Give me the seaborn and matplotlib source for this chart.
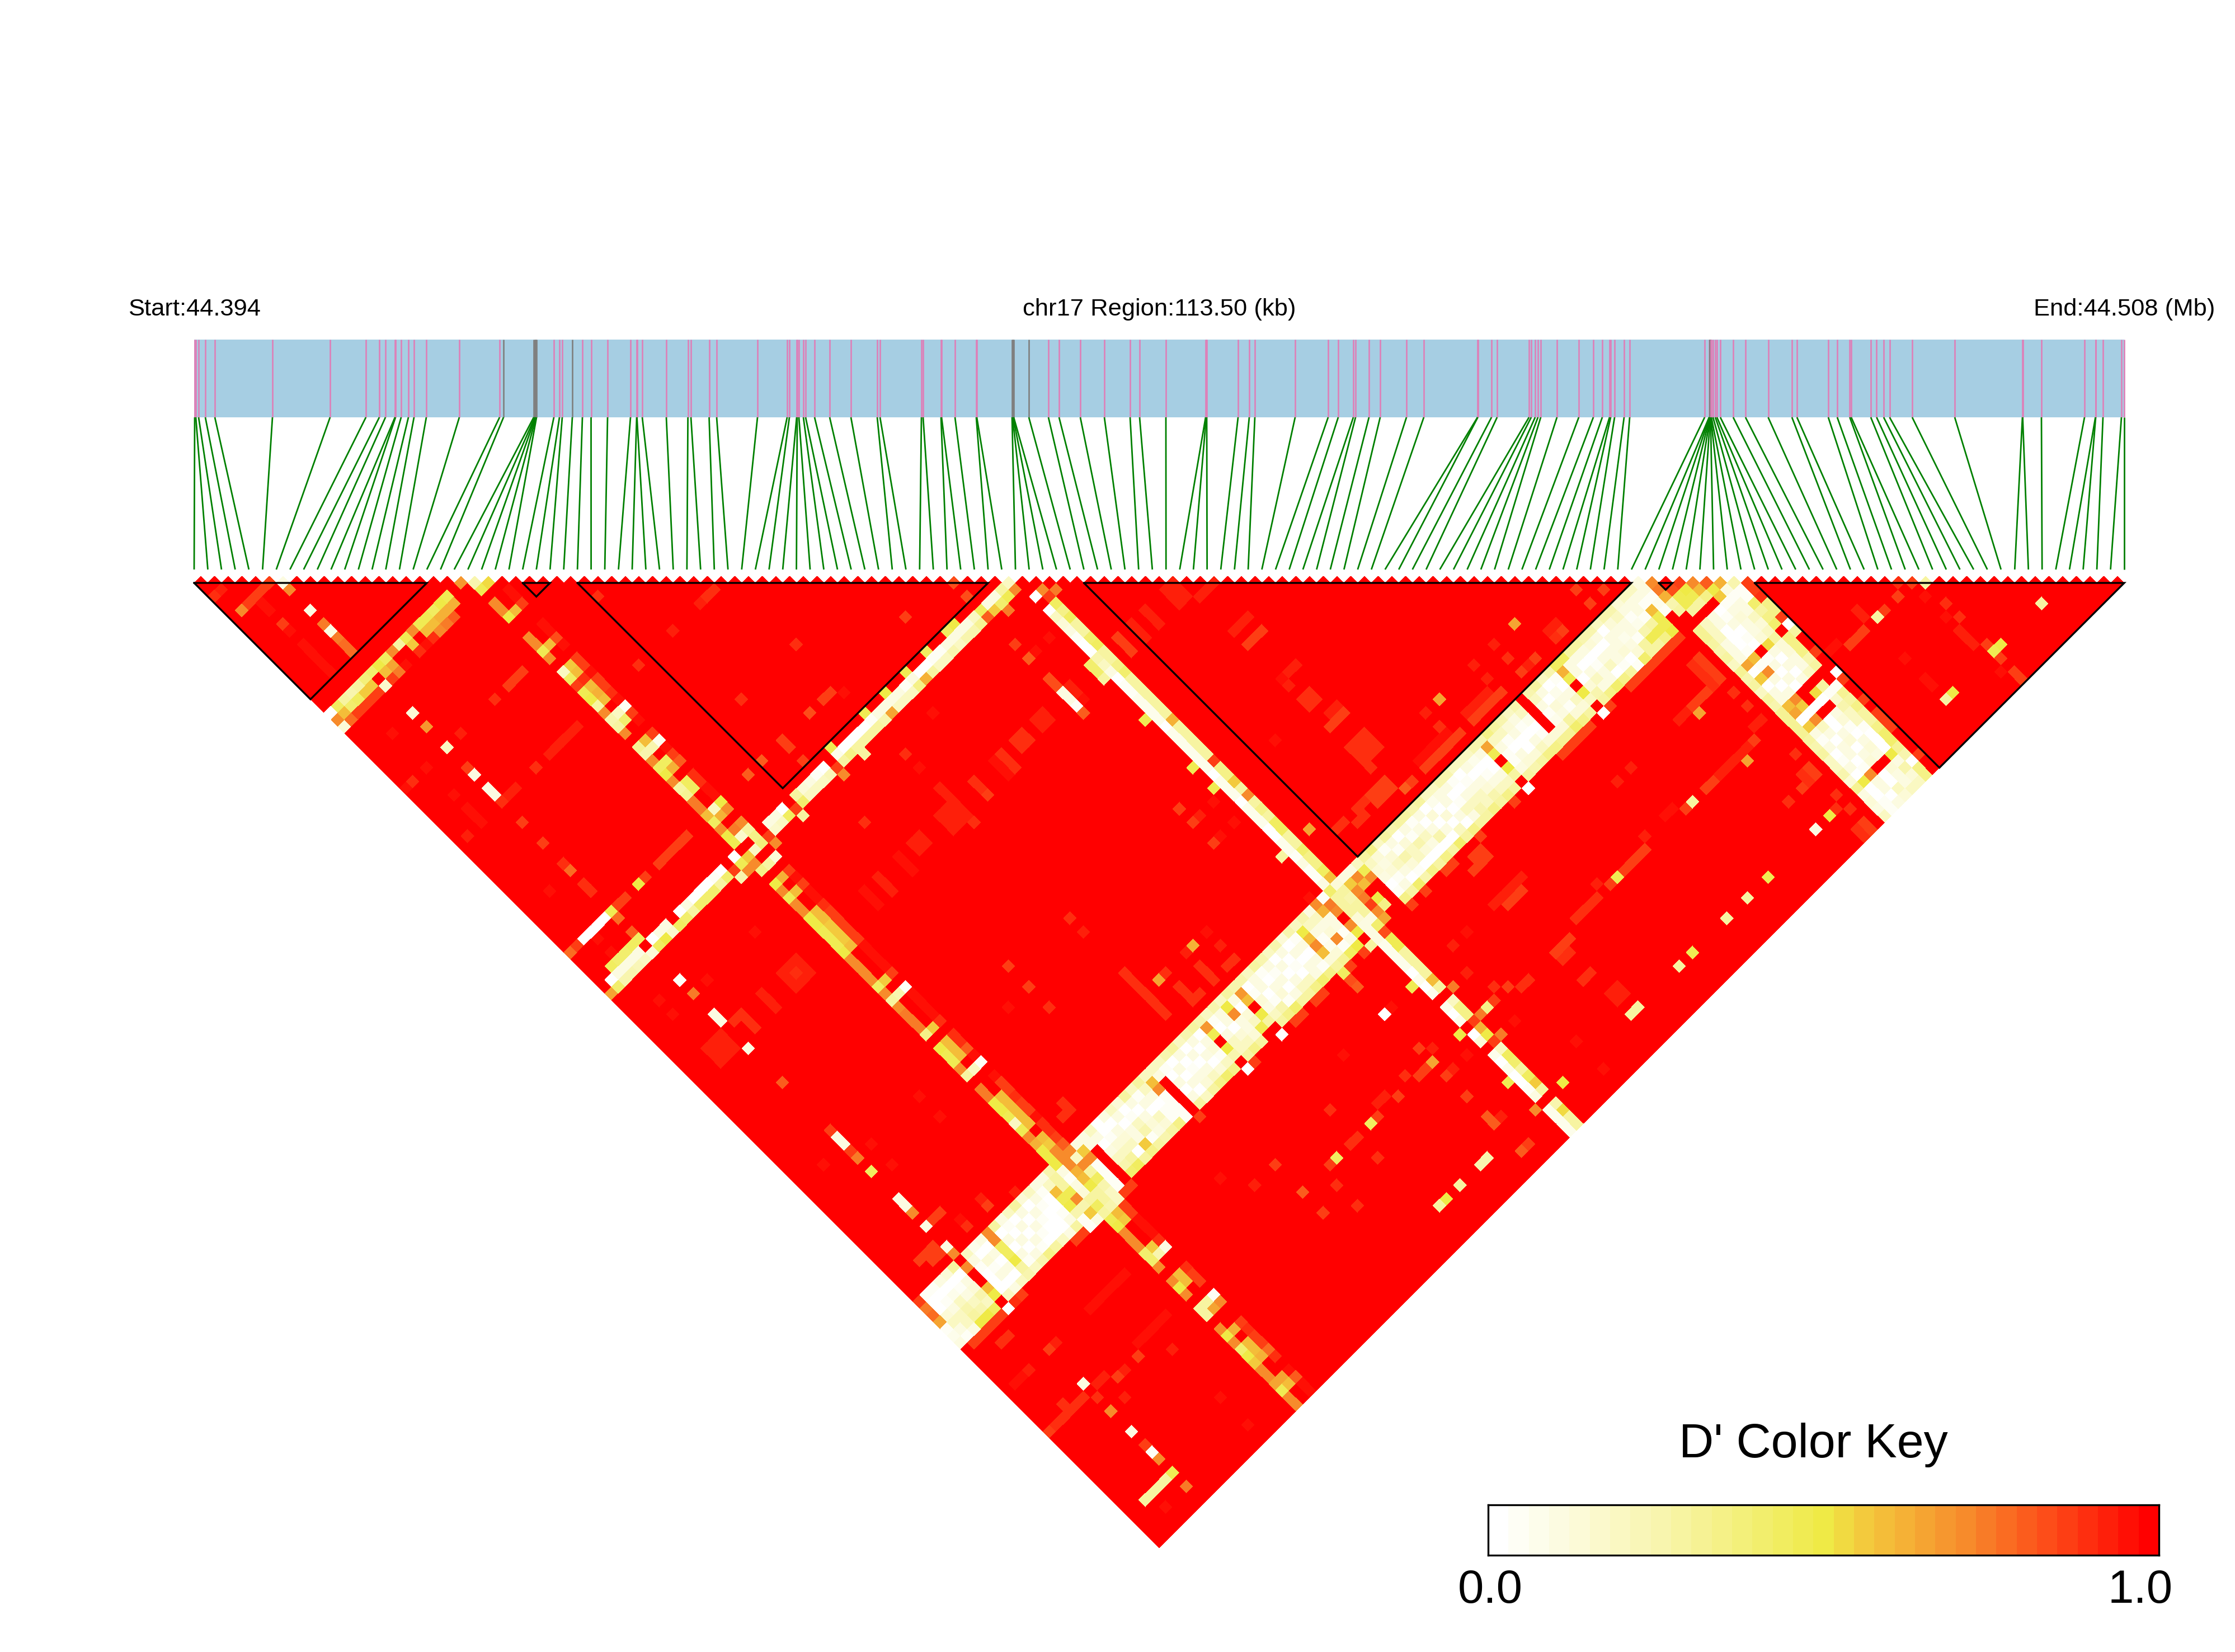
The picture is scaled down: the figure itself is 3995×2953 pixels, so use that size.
import numpy as np
import matplotlib
matplotlib.use("Agg")
import matplotlib.pyplot as plt
from matplotlib.collections import LineCollection
from matplotlib.colors import LinearSegmentedColormap
from matplotlib.patches import Rectangle
from matplotlib.transforms import Affine2D
import seaborn as sns

sns.set_theme(style="white")
plt.rcParams["font.family"] = ["Liberation Sans", "DejaVu Sans"]

N_SNP = 142
REGION_UNITS = 3450.0
# SNP positions along the region track (0..3450 = 113.5 kb)
snp_track_pos = [1,3,8,20,37,140,243,307,331,342,359,360,370,383,393,415,474,546,553,607,609,610,611,612,643,653,658,676,694,709.5,
739,780,791,791.5,801,844,882.6,888,920.5,934,1007,1060,1064,1077,1078,1081,1089,1093,1109,1136,1174,1221,1226,1300,1303,1335,1336,1360,1398,1399,
1462,1463,1464,1465,1492,1527,1546,1584,1627,1673,1690,1737,1808,1809,1810,1866,1886,1896,1968,2027,2045,2072,2076,2100,2120,2167,2198,2294,2294.5,2319,
2329,2386,2390,2397,2402,2407,2436,2475,2501,2517,2530,2532,2539,2556,2566,2700,2708,2708.5,2709,2709.5,2710,2710.5,2711,2712,2715,2719,2722,2728,2751,2773,
2813.5,2856,2865,2921,2937,2959.4,2962,2997,3007.4,3020,3030.6,3071,3147,3268,3268.5,3302,3379,3398.5,3399,3412,3445,3450]
gray_snps = [18,19,20,21,22,23,27,60,61,62,63,64,107,108,109,110,111]
ld_blocks = [(0,17),(24,26),(28,58),(65,105),(107,108),(114,141)]

# Typical D' across the low-LD SNP groups
c3_col_profile = [0.27,0.2,0.1,0.04,0.08,0.15,0.33]   # columns 106..112, rows 0..104
c3_row_profile = [0.32,0.2,0.1,0.04,0.1,0.18,0.33]    # rows 106..112, columns 114..141

# rows of the 106..113 column group with their own readings
c3_rows = {
 0:[.85,.75,.78,.65,.05,.08,.1,1], 1:[.05,.0,.02,.15,.2,.1,.05,.85], 2:[.05,.02,.05,.1,.2,.2,.1,.85], 3:[.1,.02,.08,.2,.25,.3,.5,.85], 4:[.15,.02,.05,.12,.2,.25,.5,.85], 5:[.3,.02,.1,.15,.25,.2,.45,.85],
 6:[1,.72,1,1,.6,.5,1,.03], 7:[.2,.12,.05,.02,.03,.02,.2,.9], 8:[.08,.03,.15,.05,.1,.02,.12,.85], 9:[.12,.02,.1,.02,.1,.03,.2,1], 10:[.7,.72,.45,.45,.5,.3,.25,1],
 11:[.3,.02,.1,.02,.12,.05,.2,1], 12:[.12,.05,.02,.12,.03,.1,.25,1], 13:[.2,.02,.12,.03,.1,.05,.35,1], 14:[.3,.1,.02,.12,.05,.02,.3,1], 15:[.15,.02,.1,.05,.0,.02,.2,1], 16:[.2,.1,.05,.02,.0,.0,.1,.85], 17:[.12,.05,.02,.0,.05,.1,.3,.85],
 18:[.12,.2,.6,.47,.5,.25,.05,.05], 19:[.25,.3,.3,.48,.72,.25,.55,.1], 20:[.5,.1,.05,.12,.15,.3,.45,.3],
 21:[.72,.72,.62,.6,.5,.3,.3,.25], 22:[.72,.2,.7,.3,.45,.25,.2,.2], 23:[.1,.55,.72,.05,.05,.05,.05,.85],
 24:[.1,.1,1,1,1,1,1,.85], 25:[.2,.1,.02,.1,.2,.25,.42,1], 26:[.02,.02,.05,.15,.2,.3,.45,1], 27:[.1,.0,.1,.15,.2,.02,.3,1], 28:[.2,.1,.02,.1,.1,.55,.35,1], 29:[.15,.02,.05,.2,.25,.05,.3,1], 30:[.3,.1,.0,.1,.15,.1,.25,1], 31:[.2,.05,.12,.02,.2,.15,.3,1], 32:[.3,.2,.1,.02,.05,.05,.35,1],
 33:[.2,.58,.72,.05,.05,.05,.05,1], 34:[.2,.1,1,1,1,1,1,.85], 35:[.2,.05,.0,.1,.02,.1,.3,1], 36:[.25,.02,.1,.0,.1,.02,.2,1], 37:[.3,.1,.02,.05,.1,.15,.3,1], 38:[.2,.02,.1,.0,.1,.2,.35,1], 39:[.25,.1,.0,.1,.02,.15,.4,1], 40:[.3,.02,.1,.15,.05,.2,.35,1],
 41:[.25,.68,.48,1,.5,.25,1,.03], 42:[.2,.05,.02,.1,.2,.2,.3,.85], 43:[.25,.1,.1,.02,.15,.2,.35,1], 44:[.2,.5,.72,.1,.1,.15,.3,1], 45:[.3,.1,.02,.15,.2,.48,1,1], 46:[.25,.68,.58,1,.5,.3,1,.03],
 47:[.25,.02,.05,.15,.1,.2,.3,1], 48:[.2,.1,.1,.02,.05,.25,.35,.85], 49:[.3,.05,.0,.1,.15,.05,.4,.85], 50:[.25,.1,.05,.12,.02,.1,.3,1], 51:[.2,.02,.12,.0,.1,.2,.3,.85], 52:[.25,.1,.02,.05,.02,.2,.35,.85], 53:[.15,.02,.12,.0,.12,.1,.4,1], 54:[.25,.05,.1,.02,.1,.05,.35,1],
 55:[.2,.5,.6,.72,.6,.15,.3,.45], 57:[.1,.2,.1,.15,.72,.05,.45,1], 58:[.72,.62,.1,.1,.05,.1,.5,.85],
 59:[.05,.75,.72,1,.72,.5,1,.3], 60:[.4,.3,.3,.3,.15,.1,.1,.1], 61:[.15,.3,.25,.3,.3,.1,.42,.82],
 62:[.1,.55,.7,.75,.85,.72,.65,1], 63:[.1,.72,.58,1,.5,.35,1,1], 64:[.2,.48,.72,1,1,1,1,1],
 65:[.3,.2,.15,.1,.0,.05,.35,.85], 66:[.35,.15,.1,.15,.05,.1,.3,1], 67:[.2,.05,.15,.2,.1,.02,.4,.85], 68:[.3,.1,.05,.25,.15,.05,.25,1], 69:[.25,.02,.15,.2,.2,.02,.35,1], 70:[.3,.12,.05,.25,.15,.0,.3,.85],
 71:[.3,.05,.1,.2,.1,.0,.35,.85], 72:[.25,.1,.0,.12,.25,.02,.3,1], 73:[.3,.02,.15,.02,.1,.0,.4,1], 74:[.2,.08,.02,.15,.02,.2,.3,1], 75:[.2,.12,.1,.0,.1,.02,.35,.85], 76:[.25,.1,.02,.05,.2,.1,.3,1],
 77:[.25,.05,.0,.1,.2,.25,.3,1], 78:[.2,.02,.05,.12,.2,.2,.35,1], 79:[.2,.1,.02,.1,.15,.25,.3,1], 80:[.2,.08,.0,.05,.12,.2,.35,.85], 81:[.25,.1,.0,.0,.1,.2,.3,1],
 82:[.25,.65,.48,1,.5,.3,1,.02], 83:[.35,.2,.1,.05,.05,.12,.3,1], 84:[.3,.2,.05,.0,.1,.15,.25,1], 85:[.25,.15,.1,.02,.02,.15,.3,1], 86:[.2,.1,.05,.0,.1,.2,.35,1], 87:[.25,.2,.08,.0,.05,.15,.35,.85],
 88:[1,1,1,1,1,.15,.33,.85], 90:[.3,.1,.02,.15,.1,.3,.4,.85], 91:[.2,.02,.08,.12,.05,.15,.35,.85], 92:[.25,.05,.02,.1,.2,.15,.3,1], 93:[.45,.62,.48,1,.5,.2,1,.02],
 94:[.45,.12,.1,.02,.15,.25,.3,.85], 95:[.3,.12,.02,.12,.2,.1,.35,1], 96:[.3,.1,.0,.05,.12,.1,.4,1], 97:[.25,.15,.03,.1,.2,.02,.35,.85], 98:[.25,.1,.02,.12,.1,.05,.3,.85], 99:[.2,.02,.1,.1,.15,.03,.05,.85],
 100:[.25,.15,.1,.08,.1,.15,.42,.85], 101:[.25,.2,.1,.1,.05,.28,.3,.85], 102:[.15,.1,.05,.08,.25,.47,.3,.85],
 103:[.2,.1,.1,.05,.3,.48,.35,.85], 104:[.2,.1,.05,.6,.48,.48,.5,.85],
}
c3_side_rows = [56,65,67,70,71,75,80,87,89,90,91,94,97,98,99]
# columns of the rows 106..112 with their own readings
c3_right_cols = {
 116:[.3,.2,.02,.1,.15,.1,.4], 117:[.25,.1,.02,.0,.1,.2,.3], 118:[.3,.12,.02,.05,.1,.15,.35], 119:[.2,.1,.05,.02,.15,.2,.4],
 121:[.25,.02,.1,.05,.1,.15,.35], 122:[.3,.1,.02,.1,.02,.15,.35], 123:[.2,.02,.1,.0,.1,.12,.35], 124:[.3,.1,.02,.1,.03,.1,.25], 125:[.25,.1,.1,.02,.1,.2,.3],
 130:[.3,.1,.2,.02,.1,.25,.3], 131:[.25,.05,.1,.0,.15,.2,.35], 132:[.3,.1,.02,.1,.05,.2,.3], 133:[.2,.02,.1,.15,.0,.05,.3], 134:[.2,.05,.1,.02,.1,.0,.35], 135:[.25,.1,.0,.1,.15,.02,.4], 136:[.15,.02,.05,.15,.1,.02,.42],
 138:[.1,.02,.1,.0,.15,.1,.25], 139:[.15,.0,.1,.02,.1,.25,.3], 140:[.1,.05,.02,.2,.1,.15,.3], 141:[.2,.05,.1,.15,.2,.2,.3],
}

top_block_cells = [(1,3,.93),(0,3,.9),(5,6,.85),(4,6,.85),(3,6,.85),(2,6,.85),(1,6,.72),(6,7,.12),(6,8,.72),(3,7,.95),(3,8,.95),
 (6,11,.12),(3,10,.85),(3,11,.95),(6,13,.75),(6,14,.12),(6,15,.75),(6,16,.78),(6,17,.78),(3,13,.96),(3,14,.96),(3,15,.95),(3,16,.95),(3,17,.96)]

c1_left_cells = [(19,20,.68),(20,21,.25),(21,22,.52),(20,22,.48),(17,20,.48),(17,21,.62),(16,20,.5),(16,21,.62),(16,22,.8),(15,20,.45),(15,21,.62),(15,22,.75),
 (14,20,.48),(14,21,.6),(14,22,.72),(13,20,.47),(13,21,.58),(13,22,.88),(12,20,.72),(12,22,.95),(11,22,.88),(11,20,.48),(11,21,.57),(10,20,.28),(9,20,.72),
 (8,20,.45),(7,20,.5),(6,20,.4),(8,21,.66),(7,21,.6),(8,22,.75),(9,22,.95),(7,22,.85),(6,22,.18),(5,20,.38),(5,21,.55),(5,22,.85),(4,22,.85),(3,22,.85),(2,22,.85),
 (4,20,.3),(4,21,.55),(3,20,.25),(3,21,.45),(2,20,.3),(2,21,.42),(1,20,.45),(1,21,.6),(1,22,.78),(0,20,.03),(0,21,.72),(0,22,.15)]

# rows 20, 21, 22 going right: column -> value
row20 = {24:.72,25:.72,26:.5,29:.72,30:.72,31:.48,32:.72,34:.2,35:.45,36:.85,37:.47,38:.5,39:.3,40:.72,41:.25,42:.3,43:.72,45:.32,46:.25,47:.72,48:.45,49:.5,50:.72,
 51:.3,52:.32,53:.75,54:.75,55:.6,56:.45,57:.72,58:.5,59:.47,60:1,61:.55,62:.72,63:.35,65:.5,66:.72,67:.48,68:.72,69:.72,70:.5,71:.5,72:.47,73:.47,74:.48,75:.5,
 76:.72,77:.72,78:.72,79:.72,80:.45,81:.72,82:.3,83:.72,84:.75,85:.75,86:.75,87:.35,89:.5,90:.48,91:.48,92:.72,93:.28,95:.75,96:.75,97:.5,98:.5,99:.47,100:.2,101:.47,102:.7,103:.62,104:.5,105:.5,
 114:.48,115:.5,116:.72,117:.72,118:.72,119:.42,120:.42,121:.72,123:.72,124:.5,125:.72,127:.3,128:.3,130:.72,131:.5,132:.72,133:.4,134:.5,135:.55,136:.72,137:.72,138:.66,139:.47,140:.72,141:.72}
row21 = {26:.6,31:.6,34:.55,35:.58,36:.88,37:.6,38:.62,39:.58,41:.2,42:.42,45:.58,46:.25,48:.45,49:.62,51:.45,52:.45,55:.2,56:.62,58:.75,59:.18,61:.2,63:.3,
 65:.62,67:.6,70:.6,71:.6,72:.55,73:.55,74:.55,75:.6,80:.55,82:.25,87:.55,89:.6,90:.6,91:.6,93:.2,97:.58,98:.58,99:.6,100:.6,101:.6,103:.6,104:.55,105:.72,
 114:.6,115:.55,119:.55,120:.25,123:.6,124:.6,127:.3,128:.65,131:.62,133:.6,134:.58,135:.62,138:.66,139:.6}
row22 = {24:.95,25:.95,26:.85,29:.95,30:.95,31:.82,32:.95,34:.85,35:.85,36:.95,37:.85,38:.85,39:.88,40:.95,41:.05,42:.85,43:.95,45:.85,46:.08,47:.95,48:.85,49:.8,50:.97,51:.88,52:.88,53:.95,54:.95,
 55:.5,56:.72,58:.72,59:.3,60:.35,61:.38,63:.15,65:.85,66:.95,67:.85,68:.95,69:.95,70:.88,71:.85,72:.85,73:.85,74:.85,75:.85,76:.95,77:.95,78:.95,79:.95,80:.85,82:.05,83:.95,84:.95,85:.95,86:.95,87:.88,
 89:.88,90:.88,91:.8,92:.95,93:.05,95:.95,96:.85,97:.85,98:.88,99:.85,100:.85,101:.95,102:.9,103:.9,104:.85,105:.8,114:.85,115:.85,116:.95,117:.95,118:.95,119:.9,120:.1,123:.9,124:.85,125:.85,127:.05,128:.72,
 131:.85,132:.9,133:.85,134:.87,135:.78,136:.9,138:.95,139:.8,140:.95,141:.95}

# the 58..63 group, columns going down-left: row -> value
col59 = {52:.5,51:.45,48:.45,45:.48,42:.5,39:.48,34:.48,6:.45,5:.45,4:.42,3:.42,2:.45}
col60 = {58:.3,57:.1,56:.1,55:.45,54:.2,53:.12,52:.12,51:.12,50:.12,49:.05,48:.05,47:.02,46:.02,45:.1,44:.05,43:.1,42:.1,41:.1,40:.1,39:.05,38:.0,37:.02,36:.0,35:.02,34:.08,
 32:.0,31:.05,30:.12,29:.15,28:.3,26:.02,25:.1,24:.1,19:.0,17:.0,16:.05,15:.02,14:.02,13:.02,12:.1,11:.0,9:.1,8:.1,7:.02,5:.1,4:.1,3:.1,2:.1,1:.0}
col61 = {59:.72,58:.48,57:.42,56:.55,55:.8,54:.32,53:.25,52:.25,51:.2,50:.25,49:.2,48:.2,47:.3,46:.62,45:.35,44:.2,43:.2,42:.2,41:.65,40:.25,39:.3,38:.3,37:.3,36:.3,35:.35,34:.3,33:.85,
 32:.22,31:.2,30:.2,29:.2,28:.42,27:.85,26:.45,25:.2,24:.18,23:.85,21:.2,19:.47,18:.85,17:.42,16:.28,15:.4,14:.42,13:.4,12:.3,11:.4,10:.45,9:.18,8:.5,7:.45,6:.15,5:.2,4:.22,3:.25,2:.25,1:.42,0:.65}
c2_extra = [(57,62,.75),(36,62,.3),(33,62,.72),(27,62,.3),(23,62,.72),(19,62,.72),(18,62,.25),
 (60,63,.02),(61,63,.72),(61,64,.85),(62,64,.75),(59,60,.2),(6,58,.8),(3,58,.95),(3,56,.95),
 (6,55,.48),(5,55,.0),(4,55,.0),(3,55,.0),(2,55,.0),(1,55,.85),(0,55,.78),(6,56,.78),(8,55,.85),(7,55,.85),(11,55,.85),(10,55,.5),
 (17,55,.85),(16,55,.85),(15,55,.85),(14,55,.85),(13,55,.85)]
# rows 59, 60, 61 going right (beyond the 58..64 group)
row60_default = 0.08
row61_default = 0.3
row60_gaps = [122,126,129,137]
row60_cells = {65:.0,66:.2,67:.15,68:.12,69:.05,70:.0,71:.0,72:.25,73:.2,74:.1,75:.0,76:.05,77:.05,82:.0,89:.0,93:.0,97:.02,98:.02,
 101:.05,102:.1,103:.05,104:.05,105:.12,118:.02,120:.0,124:.0,127:.0,128:.15,131:.0,133:.0,134:.0,135:.05,136:.1}
row61_cells = {65:.45,66:.35,67:.45,68:.3,69:.3,70:.4,71:.45,72:.3,73:.3,74:.35,75:.4,76:.3,82:.62,83:.3,88:.85,89:.35,90:.35,91:.55,92:.3,93:.7,94:.3,95:.35,96:.3,97:.45,98:.45,
 101:.42,102:.35,103:.35,104:.45,105:.6,114:.48,115:.47,116:.3,120:.6,122:1,123:.2,124:.35,125:.35,126:.85,127:.62,128:.5,129:.85,130:.2,131:.45,132:.4,133:.3,134:.45,135:.55,136:.3,137:1,138:.25,139:.52,140:.3,141:.3}
c2_right_extra = [(59,72,.42),(59,73,.42),(59,74,.3),(58,72,1),(59,80,.48),(59,87,.48),(59,90,.48),(59,100,.3),(63,100,.65),(59,119,.48),(59,126,.5),(59,133,.47),(59,137,.7),
 (62,122,.75),(62,126,.75),(63,126,.35),(64,126,.85),(65,125,.9),(66,126,.85),(62,129,.75),(63,137,.5),(58,106,.72),(58,105,.95)]

# the 107..113 rows, going right, with their own readings
c3_right_cells = [(105,106,.1),(106,107,.72),(107,108,1),(108,109,.85),(109,110,.72),(110,111,.8),(111,112,.63),(112,113,.25),(113,114,.85),
 (104,106,.2),(105,107,.1),(106,108,.75),(107,109,.82),(108,110,.5),(109,111,.6),(110,112,.5),(111,113,.1),(112,114,.05),(113,115,.85),
 (105,108,.05),(106,109,.62),(107,110,.48),(108,111,.48),(109,112,.35),(110,113,.55),(111,114,.05),(112,115,.05),(113,116,.9),
 (105,109,.08),(106,110,.25),(107,111,.47),(108,112,.3),(109,113,1),(110,114,.05),(111,115,.1),(112,116,.4),
 (105,110,.05),(106,111,.28),(107,112,.3),(108,113,1),(109,114,.02),(107,113,1),(112,117,.3),(112,118,.35),(112,119,.42),(112,120,1),(112,121,.35),
 (110,120,.52),(109,120,1),(108,120,.58),(107,120,.65),(111,120,.3),(108,121,.05),(108,122,.72),(107,122,.55),(112,123,.35),(112,124,.25),(112,125,.3),
 (107,126,.6),(108,126,.72),(107,127,.65),(108,127,.55),(109,127,1),(110,127,.52),(111,127,.3),(112,127,1),(112,126,1),(111,126,1),(110,126,1),(109,126,1),
 (110,128,.0),(109,128,.0),(108,128,.0),(107,128,.0),(111,128,.05),(112,128,.05),(109,129,1),(110,129,1),(107,129,.55),(108,129,.72),
 (112,136,.42),(111,137,.5),(108,137,.72),(107,137,.5),(110,137,1),(109,137,1),(112,139,.0),(112,140,.35),(112,141,.35)]
row113_cells = {117:.35,118:.35,119:.85,120:.0,121:.3,124:.85,127:.0,128:.85,131:.85,133:.85,134:.85,135:.85,139:.85}

block3_spots = [(55,56,.82),(55,58,.82),(49,55,.85),(39,49,.9),(31,49,.88),(38,55,.85),(37,55,.85),(39,56,.95),(35,55,.82),(31,55,.85),(31,56,.85),(28,55,.8),(26,55,.8),(31,58,.85),
 (26,39,.9),(31,39,.92),(35,39,.92),(28,31,.88),(37,39,.88),(36,39,.88),(6,26,.15),(6,28,.68),(3,26,.95),(8,31,.92),(6,31,.2),(3,31,.95),(6,34,.85),(6,35,.1),(1,31,.88),(0,31,.95),(3,35,.95),
 (6,37,.1),(6,38,.1),(6,39,.88),(7,39,.92),(8,39,.92),(3,37,.95),(3,38,.95),(3,39,.95),(1,39,.92),(6,42,.87),(6,45,.87),(6,48,.88),(6,49,.78),(6,51,.88),(6,52,.88),(3,49,.95),(11,39,.9),(13,31,.9),
 (17,31,.85),(16,31,.85),(15,31,.87),(17,39,.92),(16,39,.92),(15,39,.92),(14,39,.92),(13,39,.92),(22,29,.95),(44,64,.95)]
mid_spots = [(6,65,.05),(6,67,.75),(8,67,.95),(3,65,.95),(3,67,.95),(6,70,.1),(6,71,.1),(7,72,.9),(8,72,.88),(8,73,.88),(8,74,.88),(31,67,.88),(39,65,.88),(39,67,.95),(15,67,.95),
 (6,75,.1),(6,80,.8),(6,87,.85),(6,88,.1),(6,89,.1),(6,90,.85),(6,91,.75),(6,93,.45),(8,91,.95),(3,89,.95),(8,94,.95),
 (3,72,.92),(3,73,.92),(3,74,.92),(4,72,.92),(4,73,.92),(4,74,.92),(5,72,.92),(5,73,.92),(5,74,.92),
 (58,67,.95),(55,65,.85),(56,67,.95),(55,67,.8),(55,70,.82),(55,71,.82),(55,72,.1),(55,73,.1),(55,74,.05),(55,75,.8),(56,72,.92),(56,73,.92),(56,74,.95),
 (51,72,.92),(52,72,.92),(51,73,.92),(52,73,.92),(49,72,.9),(48,72,.9),(49,73,.9),(48,73,.9),(46,72,.88),(46,73,.88),(46,74,.88),(45,72,.95),(45,73,.95),(45,74,.95),(42,72,.88),(42,73,.88),(42,74,.85),
 (39,70,.92),(39,71,.92),(39,72,.92),(39,73,.92),(39,74,.92),(38,72,.92),(38,73,.92),(38,74,.92),(37,72,.92),(37,73,.92),(37,74,.92),(39,75,.88),(34,72,.92),(34,73,.92),(33,72,.92),(33,73,.92),
 (31,72,.95),(31,73,.95),(31,74,.95),(28,72,.92),(28,73,.92),(28,74,.92),(26,72,.95),(26,73,.95),(26,74,.95),(14,72,.92),(14,73,.92),(14,74,.92),(15,72,.92),(15,73,.9),(15,74,.92),(16,72,.92),(16,73,.92),(16,74,.92),
 (11,72,.92),(11,73,.92),(11,74,.92),(70,72,.92),(70,73,.92),(70,74,.92),(71,72,.92),(71,73,.92),(71,74,.92),(72,75,.92),(73,75,.92),(74,75,.92),(67,72,.92),(67,73,.92),(67,74,.92),(65,72,.92),(65,73,.92),(65,74,.92),
 (63,72,.85),(63,73,.85),(63,74,.85),(74,80,.92),(73,80,.92),(72,80,.92),(74,82,.85),(73,82,.85),(72,82,.85),(67,91,.95),(72,87,.95),(55,89,.85),(56,91,.92),(55,91,.85),(58,94,.95),(58,91,.95),(56,94,.95),(55,94,.87),
 (39,89,.9),(39,91,.92),(46,100,.62),(45,100,.92),(48,100,.95),(48,102,.92),(48,104,.88),(47,104,.88),(45,102,.88),(45,103,.88),(45,104,.88),(41,100,.65),(42,100,.9),(31,88,.85),(31,91,.85),(31,94,.88),(28,91,.95),
 (39,97,.88),(39,98,.88),(39,99,.88),(39,100,.88),(39,101,.88),(39,102,.88),(39,103,.88),(42,102,.88),(42,103,.88),(42,104,.88),(43,104,.88)]
block4_spots = [(93,100,.65),(82,100,.65),(100,102,.85),(102,104,.85),(100,104,.85),(96,104,.85),(95,104,.88),(95,103,.92),(96,103,.92),(90,100,.92),(90,102,.88),(92,104,.85),(90,104,.85),(91,104,.92),(87,100,.92),(87,102,.92),(80,100,.92),(80,102,.88),
 (87,104,.85),(86,104,.87),(85,104,.87),(84,104,.87),(83,104,.87),(86,103,.92),(85,103,.92),(84,103,.92),(83,103,.92),(81,104,.87),(80,104,.87),(79,104,.87),(78,104,.87),(77,104,.87),(76,104,.87),
 (80,103,.95),(79,103,.95),(78,103,.95),(77,103,.95),(76,103,.95),(74,104,.85),(73,104,.8),(72,97,.9),(72,98,.9),(72,99,.9),(72,100,.9),(73,97,.9),(73,98,.9),(73,99,.9),(74,97,.9),(74,98,.9),(74,99,.9),
 (72,102,.87),(71,102,.87),(70,102,.87),(72,103,.87),(71,103,.87),(70,103,.87),(69,102,.88),(68,102,.88),(68,103,.88),(66,102,.9),(65,102,.9),(67,103,.9),
 (73,87,.92),(74,87,.92),(72,88,.92),(73,90,.9),(72,90,.9),(73,91,.9),(72,91,.9),(74,94,.85),(73,94,.85),(72,94,.85),(74,93,.92),(73,93,.92)]
lower_spots = [(93,126,.3),(92,126,.85),(91,125,.95),(90,125,.95),(82,126,.48),(81,126,.85),(93,137,.48),(90,137,.3),(87,137,.3),(82,137,.48),(80,137,.3),(100,137,.1),(100,127,.65),(100,120,.65),(74,137,.3),(73,137,.3),(55,119,.0),
 (104,116,.85),(104,117,.85),(104,118,.85),(104,119,.85),(103,116,.9),(103,117,.9),(103,118,.9),(103,119,.9),(102,119,.85),(101,119,.85),(100,119,.85),(99,119,.92),(98,119,.92),
 (104,125,.92),(103,125,.92),(102,126,.85),(101,126,.92),(100,126,.92),(99,126,.92),(98,126,.92),(97,126,.92),(96,126,.85),(95,126,.85),(104,130,.88),(103,132,.85),(102,133,.87),(100,133,.9),(104,123,.88),(104,121,.9),(91,119,.92),(89,119,.92),
 (87,125,.92),(86,126,.85),(85,126,.85),(84,126,.85),(83,126,.85),(80,125,.92),(79,126,.88),(78,126,.88),(77,126,.88),(76,126,.88),(75,119,.93),(74,119,.93),(73,119,.93),(72,119,.93),(71,119,.93),(74,120,.85),(73,120,.85),(72,120,.85),
 (74,127,.85),(73,127,.85),(72,127,.85),(73,128,.9),(72,128,.9),(68,127,.88),(67,127,.88),(64,122,.92),(65,119,.92),(67,119,.95),(64,129,.95),(67,135,.95),(67,139,.95),(73,134,.92),(74,134,.92),(73,135,.92),(74,135,.92),(73,131,.9),(72,131,.9),
 (74,114,.85),(74,115,.85),(73,114,.85),(73,115,.85),(72,115,.85),(49,119,.95),(56,119,.95),(55,124,.85),(56,125,.92),(55,126,.65),(54,126,.85),(53,126,.85),(52,125,.9),(55,128,.85),(56,128,.92),(55,131,.85),(58,128,.95),
 (46,126,.45),(47,126,.85),(50,126,.85),(49,125,.92),(48,125,.92),(44,122,.88),(41,126,.45),(40,126,.85),(44,126,.88),(43,126,.88),(44,129,.9),(39,128,.9),(36,122,.85),(36,126,.8),(39,131,.9),(36,129,.85),(33,122,.92),(31,119,.95),
 (48,137,.3),(46,137,.5),(45,137,.3),(51,137,.25),(52,137,.25),(55,134,.8),(55,135,.8),(56,135,.92),(56,139,.85),(55,139,.8),(102,137,.5),(104,132,.85),(104,133,.85),(103,132,.9),(103,133,.9),(104,136,.9),(103,137,.88),(104,138,.9),(104,140,.85),(104,141,.85),(103,140,.9),(103,141,.9),
 (55,113,.45),(55,114,.82),(55,115,.8),(6,124,.1),(9,126,.85),(8,125,.92),(7,125,.92),(6,128,.7),(6,131,.1),(6,133,.85),(6,134,.05),(6,135,.72),(6,137,.47),(5,137,.3),(4,137,.3),(3,137,.3),(2,137,.28),(6,139,.75),(3,139,.95),
 (0,125,.85),(1,125,.88),(2,125,.88),(3,125,.88),(4,125,.88),(5,125,.88),(3,124,.88),(6,126,.9),(8,128,.92),(15,135,.95),(15,139,.95),(6,119,.85),(7,119,.92),(12,126,.85),(10,126,.92),(15,128,.92),
 (17,119,.95),(16,119,.95),(15,119,.95),(14,119,.95),(13,119,.95),(12,119,.95),(17,125,.95),(16,125,.95),(15,125,.95),(14,125,.95),(13,125,.95),(3,119,.92),(2,119,.95),(1,119,.95),
 (12,103,.92),(12,104,.85),(9,103,.95),(9,104,.88),(15,105,.92),(15,94,.95),(15,91,.95),(25,102,.88),(25,103,.88),(24,103,.88),(6,97,.1),(6,98,.1),(6,99,.72),(6,101,.1),(7,101,.85),(8,101,.85),(6,104,.1),(6,105,.72),
 (5,103,.85),(4,103,.85),(3,103,.85),(5,104,.85),(4,104,.85),(3,115,.88),(4,115,.88),(124,125,.88)]
block6_spots = [(123,126,.85),(124,125,.88),(125,126,.85),(126,127,.3),(125,128,.95),(126,130,.88),(126,132,.88),(125,131,.95),(120,126,.3),(121,126,.85),(119,124,.92),(119,125,.92),(118,126,.85),(117,126,.85),(116,126,.85),(115,125,.95),(114,125,.95),
 (133,137,.3),(127,137,.5),(126,137,.48),(126,136,.85),(126,138,.85),(125,133,.92),(125,134,.92),(125,135,.92),(119,131,.95),(125,139,.95),(126,140,.85),(126,141,.85),(119,134,.95),(119,135,.95),(120,137,.5),(119,137,.3)]

key_bins = 33
key_stops = [(0.0,"#FFFFFF"),(0.25,"#F8F5AE"),(0.5,"#EFEA46"),(0.56,"#F3CB3D"),(0.72,"#F78A2B"),(0.85,"#FD4A18"),(1.0,"#FF0000")]

# ---------------- build the D' matrix from the readings ----------------
D = np.ones((N_SNP, N_SNP))
def put(i, j, v):
    if 0 <= i < j < N_SNP:
        D[i, j] = v

for i in range(0, 105):
    for k, v in enumerate(c3_col_profile):
        put(i, 106 + k, v)
for k, v in enumerate(c3_row_profile):
    for j in range(114, N_SNP):
        put(106 + k, j, v)
for j, vals in c3_right_cols.items():
    for k, v in enumerate(vals):
        put(106 + k, j, v)
for i in c3_side_rows:
    put(i, 113, .85)
for j in list(range(65, 106)) + list(range(114, N_SNP)):
    put(60, j, row60_default)
    put(61, j, row61_default)
for j in row60_gaps:
    put(60, j, 1)
for r, cells in ((60, row60_cells), (61, row61_cells), (20, row20), (21, row21), (22, row22), (113, row113_cells)):
    for j, v in cells.items():
        put(r, j, v)
for c, cells in ((59, col59), (60, col60), (61, col61)):
    for i, v in cells.items():
        put(i, c, v)
for r, vals in c3_rows.items():
    for k, v in enumerate(vals):
        put(r, 106 + k, v)
for group in (top_block_cells, c1_left_cells, c2_extra, c2_right_extra, c3_right_cells, block3_spots, mid_spots, block4_spots, lower_spots, block6_spots):
    for i, j, v in group:
        put(i, j, v)

cmap = LinearSegmentedColormap.from_list("dprime", key_stops, N=key_bins)

# ---------------- figure, in reference pixels ----------------
fig = plt.figure(figsize=(39.95, 29.53), dpi=100, facecolor="white")
ax = fig.add_axes([0, 0, 1, 1])

LEFT, RIGHT = 347.0, 3797.0
TOP = 1042.0
half = (RIGHT - LEFT) / (N_SNP - 1) / 2.0

mask = np.tril(np.ones_like(D, dtype=bool))
sns.heatmap(D, mask=mask, cmap=cmap, vmin=0, vmax=1, cbar=False, ax=ax, linewidths=0,
            xticklabels=False, yticklabels=False)
to_page = Affine2D.from_values(half, half, half, -half, LEFT - half, TOP - half)
ax.collections[0].set_transform(to_page + ax.transData)
ax.collections[0].set_antialiased(False)

ax.set_xlim(0, 3995)
ax.set_ylim(2953, 0)
ax.set_axis_off()

# region track
BAR_TOP, BAR_BOTTOM, LINK_BOTTOM = 607.0, 746.0, 1018.0
ax.add_patch(Rectangle((LEFT, BAR_TOP), RIGHT - LEFT, BAR_BOTTOM - BAR_TOP, facecolor="#A6CEE3", edgecolor="none", zorder=2))
xs = LEFT + np.asarray(snp_track_pos, float) / REGION_UNITS * (RIGHT - LEFT)
xb = LEFT + np.arange(N_SNP) * 2 * half
snp_colors = ["#7F7F7F" if k in gray_snps else "#DE80B8" for k in range(N_SNP)]
ax.vlines(xs, BAR_TOP, BAR_BOTTOM, colors=snp_colors, linewidth=1.9, zorder=3)
links = [[(a, BAR_BOTTOM), (b, LINK_BOTTOM)] for a, b in zip(xs, xb)]
ax.add_collection(LineCollection(links, colors="#008000", linewidths=2.0, zorder=3))

# LD blocks
for a, b in ld_blocks:
    xa, xz = LEFT + a * 2 * half, LEFT + b * 2 * half
    ax.plot([xa, xz, (xa + xz) / 2, xa], [TOP, TOP, TOP + (b - a) * half, TOP], color="black", lw=2.4, zorder=5, solid_joinstyle="miter")

# labels
txt = dict(color="black", va="baseline", ha="center", zorder=6)
ax.text(LEFT, 564, "Start:44.394", fontsize=31.3, **txt)
ax.text((LEFT + RIGHT) / 2, 564, "chr17 Region:113.50 (kb)", fontsize=31.3, **txt)
ax.text(RIGHT, 564, "End:44.508 (Mb)", fontsize=31.3, **txt)
ax.text(3241, 2605, "D' Color Key", fontsize=62, **txt)
ax.text(2664, 2865, "0.0", fontsize=60, **txt)
ax.text(3826, 2865, "1.0", fontsize=60, **txt)

# colour key
W, H = 3995.0, 2953.0
ax_key = fig.add_axes([2660 / W, 1 - 2780 / H, (3859 - 2660) / W, 90 / H])
key_values = np.linspace(0, 1, key_bins)[None, :]
sns.heatmap(key_values, cmap=cmap, vmin=0, vmax=1, cbar=False, ax=ax_key, xticklabels=False, yticklabels=False)
for sp in ax_key.spines.values():
    sp.set_visible(True)
    sp.set_color("black")
    sp.set_linewidth(2.4)

fig.savefig("out.png", dpi=100, facecolor="white")
